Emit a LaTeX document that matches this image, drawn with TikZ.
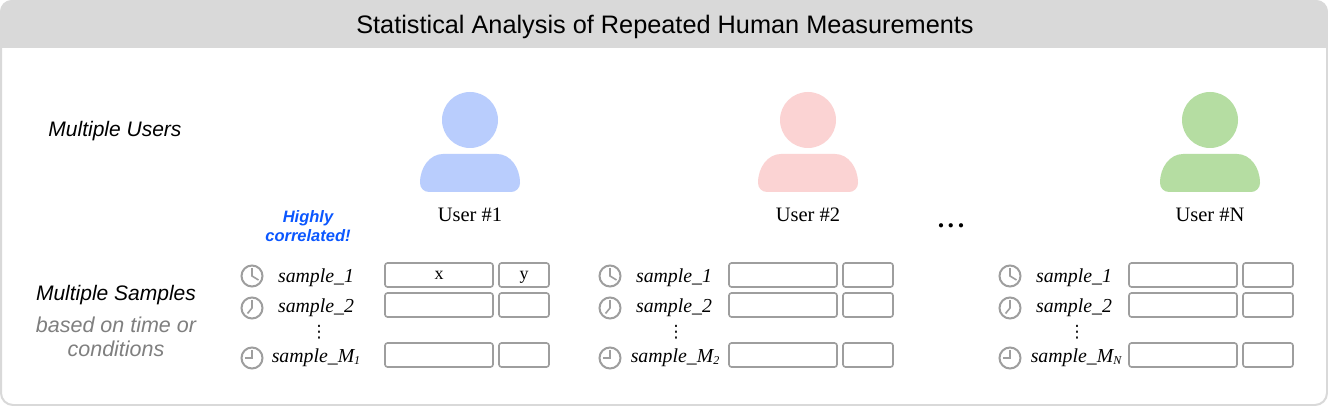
\documentclass[tikz,border=0pt]{standalone}
\usepackage{fontspec}
\setmainfont{Liberation Serif}
\setsansfont{Liberation Sans}
\newfontfamily\dotsfont{DejaVu Sans}
\definecolor{framegray}{HTML}{D9D9D9}
\definecolor{linegray}{HTML}{9E9E9E}
\definecolor{notegray}{HTML}{7F7F7F}
\definecolor{hiblue}{HTML}{0B57FF}
\definecolor{userblue}{HTML}{B9CDFD}
\definecolor{userred}{HTML}{FBD3D3}
\definecolor{usergreen}{HTML}{B5DDA2}
\tikzset{
    cellx/.style={draw=linegray, line width=1.6pt, rounded corners=2.5pt, minimum width=108pt, minimum height=24pt, inner sep=0pt, text height=10pt, text depth=2pt, font=\fontsize{18}{18}\selectfont},
    celly/.style={cellx, minimum width=50pt},
    sample/.style={inner sep=0pt, anchor=base, font=\fontsize{19.8}{20}\selectfont\itshape},
    vdots/.style={inner sep=0pt, font=\dotsfont\fontsize{17}{17}\selectfont},
    username/.style={inner sep=0pt, anchor=base, font=\fontsize{20.5}{21}\selectfont},
    rowtitle/.style={inner sep=0pt, font=\sffamily\itshape\fontsize{21}{21}\selectfont},
    rownote/.style={rowtitle, text=notegray, font=\sffamily\itshape\fontsize{21.5}{22}\selectfont},
    hilabel/.style={inner sep=0pt, text=hiblue, font=\sffamily\bfseries\itshape\fontsize{16.5}{17}\selectfont},
    pics/clock/.style 2 args={code={
        \draw[linegray, line width=2pt] (0,0) circle (10.5);
        \draw[linegray, line width=1.6pt] (#1) -- (0,0) -- (#2);
    }},
    pics/user/.style={code={
        \fill[#1] (0,0) circle (28);
        \fill[#1] (-27,34) -- (27,34)
            .. controls (40,34) and (50,47) .. (50,63)
            .. controls (50,68) and (46,72) .. (41,72)
            -- (-41,72)
            .. controls (-46,72) and (-50,68) .. (-50,63)
            .. controls (-50,47) and (-40,34) .. (-27,34) -- cycle;
    }},
}
\newcommand{\sub}[1]{\raisebox{-2pt}{\fontsize{12}{12}\selectfont #1}}
\begin{document}
\begin{tikzpicture}[x=1pt, y=-1pt]
    \useasboundingbox (0,0) rectangle (1328,406);
    % frame and title
    \draw[framegray, line width=2pt, fill=white, rounded corners=12pt] (1,1) rectangle (1327,405);
    \fill[framegray] (0,48) -- (0,12) .. controls (0,5) and (5,0) .. (12,0) -- (1316,0)
        .. controls (1323,0) and (1328,5) .. (1328,12) -- (1328,48) -- cycle;
    \node[inner sep=0pt, font=\sffamily\fontsize{25.3}{26}\selectfont] at (665, 27)(title){Statistical Analysis of Repeated Human Measurements};

    % left column
    \node[rowtitle] at (115, 131)(users){Multiple Users};
    \node[rowtitle] at (116, 295)(samples){Multiple Samples};
    \node[rownote] at (116, 325)(note1){based on time or};
    \node[rownote] at (116, 349)(note2){conditions};
    \node[hilabel] at (308, 218)(high){Highly};
    \node[hilabel] at (308, 236)(corr){correlated!};

    % users
    \pic at (470, 120) {user=userblue};
    \pic at (808, 120) {user=userred};
    \pic at (1210, 120) {user=usergreen};
    \node[username] at (470, 222)(user1){User \#1};
    \node[username] at (808, 222)(user2){User \#2};
    \node[username] at (1210, 222)(userN){User \#N};
    \node[inner sep=0pt, font=\bfseries\fontsize{26}{26}\selectfont] at (951, 226)(more){.\hspace{3.5pt}.\hspace{3.5pt}.};

    % user 1
    \pic at (252, 276) {clock={6.5,4}{0,-8}};
    \pic at (252, 308) {clock={-4.5,5.5}{0,-8}};
    \pic at (252, 358) {clock={-7,0}{0,-8}};
    \node[sample] at (316, 282.5)(s11){sample\_1};
    \node[sample] at (316, 312.5)(s12){sample\_2};
    \node[vdots] at (319, 332)(d1){⋮};
    \node[sample] at (316, 362.5)(s13){sample\_M\sub{1}};
    \node[cellx] at (439, 275)(x11){x};
    \node[celly] at (524, 275)(y11){y};
    \node[cellx] at (439, 305)(x12){};
    \node[celly] at (524, 305)(y12){};
    \node[cellx] at (439, 355)(x13){};
    \node[celly] at (524, 355)(y13){};

    % user 2
    \pic at (610, 276) {clock={6.5,4}{0,-8}};
    \pic at (610, 308) {clock={-4.5,5.5}{0,-8}};
    \pic at (610, 358) {clock={-7,0}{0,-8}};
    \node[sample] at (674, 282.5)(s21){sample\_1};
    \node[sample] at (674, 312.5)(s22){sample\_2};
    \node[vdots] at (676, 332)(d2){⋮};
    \node[sample] at (675, 362.5)(s23){sample\_M\sub{2}};
    \node[cellx] at (783, 275)(x21){};
    \node[celly] at (868, 275)(y21){};
    \node[cellx] at (783, 305)(x22){};
    \node[celly] at (868, 305)(y22){};
    \node[cellx] at (783, 355)(x23){};
    \node[celly] at (868, 355)(y23){};

    % user N
    \pic at (1010, 276) {clock={6.5,4}{0,-8}};
    \pic at (1010, 308) {clock={-4.5,5.5}{0,-8}};
    \pic at (1010, 358) {clock={-7,0}{0,-8}};
    \node[sample] at (1074, 282.5)(sN1){sample\_1};
    \node[sample] at (1074, 312.5)(sN2){sample\_2};
    \node[vdots] at (1077, 332)(dN){⋮};
    \node[sample] at (1076, 362.5)(sN3){sample\_M\sub{N}};
    \node[cellx] at (1183, 275)(xN1){};
    \node[celly] at (1268, 275)(yN1){};
    \node[cellx] at (1183, 305)(xN2){};
    \node[celly] at (1268, 305)(yN2){};
    \node[cellx] at (1183, 355)(xN3){};
    \node[celly] at (1268, 355)(yN3){};
\end{tikzpicture}
\end{document}
